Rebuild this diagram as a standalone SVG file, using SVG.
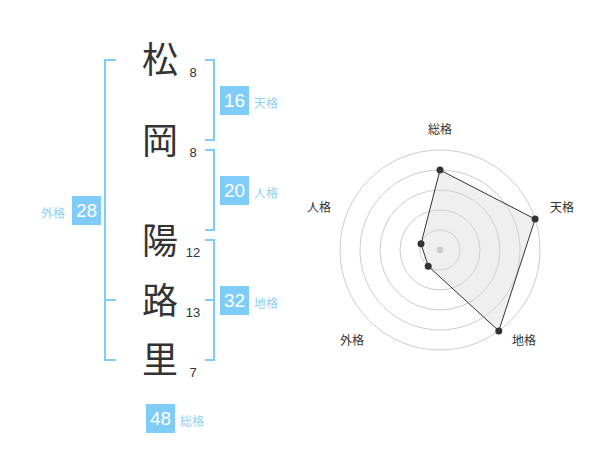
<svg xmlns="http://www.w3.org/2000/svg" width="600" height="470" viewBox="0 0 600 470">
<style>
.ch{font-family:"Noto Sans CJK JP","Noto Sans CJK SC",sans-serif;font-size:36px;fill:#333;text-anchor:middle}
.sn{font-family:"Liberation Sans",Arial,sans-serif;font-size:13px;fill:#333;text-anchor:middle}
.br{fill:none;stroke:#80ccf8;stroke-width:2}
.box{fill:#80ccf8}
.bn{font-family:"Liberation Sans",Arial,sans-serif;font-size:19px;fill:#fff;text-anchor:middle}
.bl{font-family:"Noto Sans CJK JP","Noto Sans CJK SC",sans-serif;font-size:12px;fill:#8fd0f8}
.ring{fill:none;stroke:#cccccc;stroke-width:1}
.rl{font-family:"Noto Sans CJK JP","Noto Sans CJK SC",sans-serif;font-size:12px;fill:#333;text-anchor:middle}
.pt{fill:#333}
</style>
<rect width="600" height="470" fill="#fff"/>
<g id="chars">
<g id="c1"><text class="ch" x="160" y="73">松</text><text class="sn" x="193" y="77">8</text></g>
<g id="c2"><text class="ch" x="160" y="154">岡</text><text class="sn" x="193" y="157">8</text></g>
<g id="c3"><text class="ch" x="160" y="254">陽</text><text class="sn" x="193" y="257">12</text></g>
<g id="c4"><text class="ch" x="160" y="314">路</text><text class="sn" x="193" y="317">13</text></g>
<g id="c5"><text class="ch" x="160" y="373">里</text><text class="sn" x="193" y="377">7</text></g>
</g>
<g id="connectors">
<path class="br" d="M205,60 H214 V140 H205"/>
<path class="br" d="M205,150 H214 V230 H205"/>
<path class="br" d="M205,240 H214 V360 H205 M205,300 H214"/>
<path class="br" d="M116,60 H105 V360 H116 M105,300 H116"/>
</g>
<g id="tenkaku"><rect class="box" x="220" y="86" width="29" height="29"/><text class="bn" x="234.5" y="107">16</text><text class="bl" x="254" y="108">天格</text></g>
<g id="jinkaku"><rect class="box" x="220" y="176" width="29" height="29"/><text class="bn" x="234.5" y="197">20</text><text class="bl" x="254" y="198">人格</text></g>
<g id="chikaku"><rect class="box" x="220" y="286" width="29" height="29"/><text class="bn" x="234.5" y="307">32</text><text class="bl" x="254" y="308">地格</text></g>
<g id="gaikaku"><rect class="box" x="72" y="196" width="29" height="29"/><text class="bn" x="86.5" y="217">28</text><text class="bl" x="41" y="218">外格</text></g>
<g id="soukaku"><rect class="box" x="146" y="404" width="29" height="29"/><text class="bn" x="160.5" y="425">48</text><text class="bl" x="180" y="426">総格</text></g>
<g id="radar">
<circle class="ring" cx="440" cy="250" r="20"/>
<circle class="ring" cx="440" cy="250" r="40"/>
<circle class="ring" cx="440" cy="250" r="60"/>
<circle class="ring" cx="440" cy="250" r="80"/>
<circle class="ring" cx="440" cy="250" r="100"/>
<polygon points="440,170 535.1,219.1 498.8,330.9 428.2,266.2 421,243.8" fill="#d8d8d8" fill-opacity="0.4" stroke="#333" stroke-width="1"/>
<circle cx="440" cy="250" r="3.5" fill="#cccccc"/>
<circle class="pt" cx="440" cy="170" r="3.5"/>
<circle class="pt" cx="535.1" cy="219.1" r="3.5"/>
<circle class="pt" cx="498.8" cy="330.9" r="3.5"/>
<circle class="pt" cx="428.2" cy="266.2" r="3.5"/>
<circle class="pt" cx="421" cy="243.8" r="3.5"/>
<text class="rl" x="440" y="134">総格</text>
<text class="rl" x="562" y="212">天格</text>
<text class="rl" x="524" y="345">地格</text>
<text class="rl" x="352" y="345">外格</text>
<text class="rl" x="319" y="212">人格</text>
</g>
</svg>
